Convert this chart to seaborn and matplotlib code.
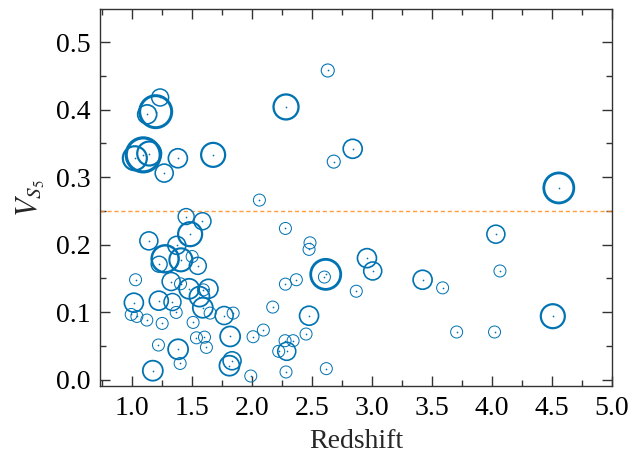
import numpy as np
import pandas as pd
import matplotlib
matplotlib.use("Agg")
import matplotlib.pyplot as plt
import seaborn as sns
from matplotlib.ticker import MultipleLocator

redshift = [1.233, 1.196, 1.125, 1.022, 1.142, 1.092, 1.267, 1.381, 1.675,
            2.631, 2.283, 2.839, 2.681, 2.061, 4.558, 4.033, 4.067, 3.422,
            3.589, 4.508, 3.706, 4.022, 2.278, 2.483, 2.475, 2.958, 3.006,
            2.614, 2.603, 2.278, 2.369, 2.869, 2.172, 2.475, 2.094, 2.008,
            2.450, 2.275, 2.342, 2.222, 2.289, 2.283, 2.619, 1.989,
            1.450, 1.586, 1.483, 1.139, 1.372, 1.275, 1.225, 1.406, 1.500,
            1.547, 1.028, 1.325, 1.403, 1.475, 1.594, 1.636, 1.561, 1.336,
            1.222, 1.014, 1.367, 1.589, 1.650, 1.767, 1.842, 0.992, 1.039,
            1.122, 1.250, 1.508, 1.536, 1.603, 1.619, 1.817, 1.219, 1.383,
            1.400, 1.172, 1.811, 1.833]
vs5 = [0.418, 0.397, 0.393, 0.328, 0.335, 0.333, 0.306, 0.328, 0.333,
       0.458, 0.404, 0.342, 0.323, 0.266, 0.284, 0.2155, 0.161, 0.148,
       0.136, 0.094, 0.0706, 0.0706, 0.224, 0.2027, 0.193, 0.180, 0.161,
       0.156, 0.152, 0.1415, 0.148, 0.131, 0.1075, 0.0947, 0.0735, 0.0636,
       0.0676, 0.0577, 0.0577, 0.042, 0.042, 0.0114, 0.0163, 0.0054,
       0.2416, 0.2347, 0.2155, 0.2056, 0.199, 0.179, 0.171, 0.1775, 0.1824,
       0.1686, 0.148, 0.1454, 0.142, 0.1346, 0.133, 0.1346, 0.123, 0.115,
       0.117, 0.114, 0.0996, 0.1065, 0.0986, 0.095, 0.0986, 0.0966, 0.0937,
       0.0883, 0.0833, 0.0848, 0.062, 0.063, 0.0478, 0.064, 0.0513, 0.045,
       0.024, 0.0133, 0.0207, 0.028]
weight = [8.5, 16, 9.5, 12, 12, 17, 9, 9.5, 12,
          6.5, 12.5, 9.5, 6.5, 6, 15, 9, 6, 9.5,
          6, 12, 6, 6, 6, 6, 6, 9.5, 9,
          15, 6, 6, 6, 6, 6, 9.5, 6, 6,
          6, 6, 6, 6, 9, 6, 6, 6,
          8, 8.5, 12, 9, 9, 13.5, 8, 11.5, 6,
          8.5, 6, 9, 6, 10, 6, 9.5, 10, 8.5,
          9.5, 9.5, 6, 10, 6, 9, 6, 6, 6,
          6, 6, 6, 6, 6, 6, 10, 6, 10,
          6, 10, 10, 9]
threshold = 0.25

df = pd.DataFrame({"Redshift": redshift, "V": vs5, "w": weight})

sns.set_style("ticks")
plt.rcParams["font.family"] = ["Liberation Serif", "DejaVu Serif"]
plt.rcParams["mathtext.fontset"] = "stix"

blue = "#0173b2"
orange = "#ff8c1a"

fig = plt.figure(figsize=(6.34, 4.53), dpi=100)
ax = fig.add_axes([0.158, 0.147, 0.807, 0.833])

w = np.asarray(df["w"], dtype=float)
s_vals = (1.44 * w) ** 2
lw_vals = np.maximum(1.0, 0.2 * w - 0.2) * 0.72

sns.scatterplot(data=df, x="Redshift", y="V", s=s_vals, facecolor="none",
                edgecolor=blue, ax=ax, legend=False, zorder=3)
coll = ax.collections[-1]
coll.set_facecolor("none")
coll.set_edgecolor(blue)
coll.set_linewidths(lw_vals)

sns.scatterplot(data=df, x="Redshift", y="V", s=1.5, color=blue,
                linewidth=0, ax=ax, legend=False, zorder=4)

ax.axhline(threshold, color=orange, alpha=0.85, linestyle=(0, (3, 2)),
           linewidth=1.0, zorder=2)

ax.set_xlim(0.733, 5.0)
ax.set_ylim(-0.01, 0.549)
ax.xaxis.set_major_locator(MultipleLocator(0.5))
ax.xaxis.set_minor_locator(MultipleLocator(0.25))
ax.yaxis.set_major_locator(MultipleLocator(0.1))
ax.yaxis.set_minor_locator(MultipleLocator(0.05))
ax.xaxis.set_major_formatter(matplotlib.ticker.FormatStrFormatter("%.1f"))
ax.yaxis.set_major_formatter(matplotlib.ticker.FormatStrFormatter("%.1f"))
ax.tick_params(which="both", direction="in", top=True, right=True,
               color="#333333", width=1.0, labelsize=20, labelcolor="black")
ax.tick_params(which="major", length=7)
ax.tick_params(which="minor", length=4)
ax.tick_params(axis="x", which="major", pad=7)
ax.tick_params(axis="y", which="major", pad=7)
for sp in ax.spines.values():
    sp.set_visible(True)
    sp.set_color("#333333")
    sp.set_linewidth(1.0)

ax.set_xlabel("Redshift", fontsize=20, labelpad=6)
ax.set_ylabel(r"$V_{S_5}$", fontsize=22, labelpad=6)

fig.savefig("out.png", dpi=100)
